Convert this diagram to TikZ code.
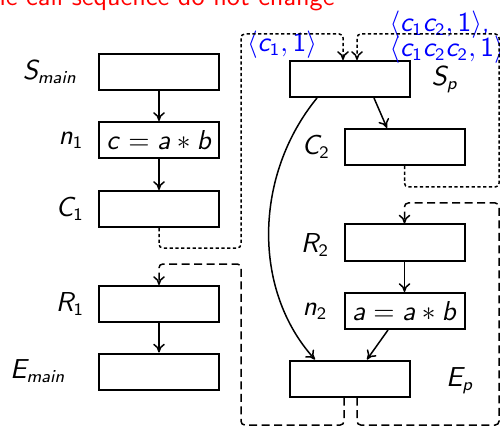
\documentclass[tikz,border=0pt]{standalone}
\usepackage{xcolor}
\usepackage{tikz}
\usetikzlibrary{arrows.meta}
\renewcommand{\familydefault}{\sfdefault}
\DeclareMathAlphabet{\mathsi}{OT1}{cmss}{m}{sl}
\SetSymbolFont{operators}{normal}{OT1}{cmss}{m}{n}
\newcommand{\sv}[1]{\mathsi{#1}}
\tikzset{
  blk/.style={draw, line width=0.8pt, minimum width=48pt, minimum height=14.4pt, inner sep=0pt},
  lbl/.style={inner sep=1pt},
  flow/.style={line width=0.6pt, -{To[length=3.5pt,width=4.6pt]}},
  callln/.style={line width=0.6pt, dash pattern=on 1.3pt off 1pt, rounded corners=1.5pt, -{To[length=3.5pt,width=4.6pt]}},
  retln/.style={line width=0.6pt, dash pattern=on 3.2pt off 1.8pt, rounded corners=1.5pt, -{To[length=3.5pt,width=4.6pt]}},
  ctx/.style={text=blue, inner sep=0pt}
}

\begin{document}
\begin{tikzpicture}[x=0.4pt, y=-0.4pt, font=\fontsize{10.5}{12}\selectfont]
\useasboundingbox (0,0) rectangle (500,426);
% title, cut off at the top
\node[text=red, anchor=base east, inner sep=0pt] (title) at (335,6) {The call sequence do not change};
% main
\node[blk] (smain) at (159,72) {};
\node[blk] (n1) at (159,140) {$\sv{c}=\sv{a}*\sv{b}$};
\node[blk] (c1) at (159,209) {};
\node[blk] (r1) at (159,304) {};
\node[blk] (emain) at (159,371.5) {};
\node[lbl] (lsmain) at (50,72) {$\sv{S}_{\sv{main}}$};
\node[lbl] (ln1) at (71,140) {$\sv{n}_1$};
\node[lbl] (lc1) at (70,209) {$\sv{C}_1$};
\node[lbl] (lr1) at (70,304) {$\sv{R}_1$};
\node[lbl] (lemain) at (38,371) {$\sv{E}_{\sv{main}}$};
% p
\node[blk] (sp) at (349.5,79) {};
\node[blk] (c2) at (404.5,147) {};
\node[blk] (r2) at (404.5,242.5) {};
\node[blk] (n2) at (404.5,311) {$\sv{a}=\sv{a}*\sv{b}$};
\node[blk] (ep) at (350,378.5) {};
\node[lbl] (lsp) at (445,80) {$\sv{S}_{\sv{p}}$};
\node[lbl] (lc2) at (316,147) {$\sv{C}_2$};
\node[lbl] (lr2) at (315,245) {$\sv{R}_2$};
\node[lbl] (ln2) at (315,311) {$\sv{n}_2$};
\node[lbl] (lep) at (460,381) {$\sv{E}_{\sv{p}}$};
% contexts
\node[ctx] (k1) at (282,45) {$\langle \sv{c}_1, 1\rangle$};
\node[ctx, anchor=west, align=left] (k2) at (389,37)
  {$\langle \sv{c}_1\sv{c}_2, 1\rangle$,\\[-2pt]$\langle \sv{c}_1\sv{c}_2\sv{c}_2, 1\rangle$};
% intra edges
\draw[flow] (smain) -- (n1);
\draw[flow] (n1) -- (c1);
\draw[flow] (r1) -- (emain);
\draw[flow] ([xshift=9.8pt]sp.south) -- ([xshift=-7pt]c2.north);
\draw[flow] (r2) -- (n2);
\draw[flow] ([xshift=-6.6pt]n2.south) -- ([xshift=6.8pt]ep.north);
\draw[flow] ([xshift=-13pt]sp.south) .. controls (254,175) and (252,290) .. ([xshift=-14pt]ep.north);
% calls
\draw[callln] (c1.south) -- (159,248) -| (241,34) -| ([xshift=-2.6pt]sp.north);
\draw[callln] (c2.south) -- (404.5,187) -| (499,34) -| ([xshift=3pt]sp.north);
% returns
\draw[retln] ([xshift=-2.4pt]ep.south) |- (241,425) |- (159,264) -- (r1.north);
\draw[retln] ([xshift=2.8pt]ep.south) |- (499,425) |- (404.5,203) -- (r2.north);
\end{tikzpicture}
\end{document}
